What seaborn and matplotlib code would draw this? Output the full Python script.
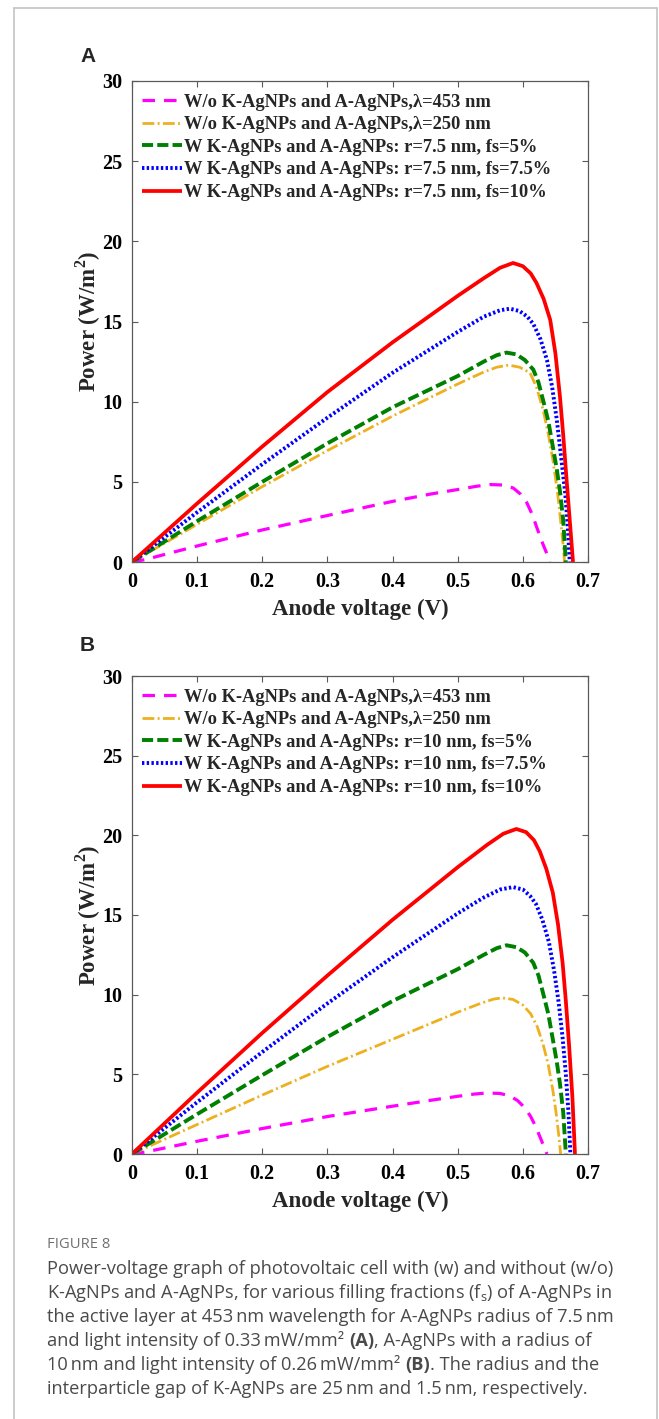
import numpy as np
import pandas as pd
import matplotlib
matplotlib.use("Agg")
import matplotlib.pyplot as plt
import seaborn as sns
from matplotlib.lines import Line2D

# ---------------- data ----------------
# Panel A
vA_pink = [0, 0.02, 0.1, 0.2, 0.3, 0.4, 0.46, 0.5, 0.53, 0.55, 0.57, 0.585, 0.596, 0.606, 0.614, 0.621, 0.629, 0.637, 0.641]
pA_pink = [0, 0.15, 1.0, 2.0, 2.9, 3.78, 4.25, 4.52, 4.73, 4.83, 4.8, 4.62, 4.25, 3.7, 3.0, 2.2, 1.3, 0.5, 0]

vA_orange = [0, 0.1, 0.2, 0.3, 0.4, 0.5, 0.54, 0.56, 0.578, 0.595, 0.611, 0.621, 0.631, 0.639, 0.646, 0.653, 0.659, 0.662, 0.664]
pA_orange = [0, 2.35, 4.7, 6.95, 9.1, 11.1, 11.85, 12.15, 12.28, 12.15, 11.8, 10.9, 9.5, 8.0, 6.4, 4.4, 2.2, 1.0, 0]

vA_green = [0, 0.1, 0.2, 0.3, 0.4, 0.5, 0.54, 0.56, 0.575, 0.59, 0.603, 0.616, 0.624, 0.631, 0.639, 0.646, 0.652, 0.657, 0.662, 0.666]
pA_green = [0, 2.55, 5.0, 7.4, 9.65, 11.6, 12.5, 12.9, 13.06, 12.95, 12.6, 12.0, 11.2, 10.1, 8.8, 7.2, 5.8, 4.4, 2.6, 0]

vA_blue = [0, 0.1, 0.2, 0.3, 0.4, 0.5, 0.54, 0.565, 0.58, 0.595, 0.607, 0.616, 0.627, 0.637, 0.645, 0.652, 0.658, 0.665, 0.669, 0.672]
pA_blue = [0, 3.1, 6.1, 9.0, 11.8, 14.35, 15.3, 15.7, 15.8, 15.65, 15.3, 14.85, 13.9, 12.6, 10.9, 8.9, 6.8, 4.3, 2.2, 0]

vA_red = [0, 0.1, 0.2, 0.3, 0.4, 0.5, 0.54, 0.565, 0.585, 0.6, 0.612, 0.621, 0.632, 0.642, 0.65, 0.657, 0.662, 0.667, 0.672, 0.677]
pA_red = [0, 3.65, 7.2, 10.6, 13.7, 16.6, 17.7, 18.35, 18.65, 18.45, 18.0, 17.4, 16.4, 15.1, 13.0, 10.3, 7.9, 5.2, 2.6, 0]

# Panel B
vB_pink = [0, 0.02, 0.1, 0.2, 0.3, 0.4, 0.46, 0.5, 0.525, 0.545, 0.565, 0.58, 0.592, 0.603, 0.612, 0.62, 0.627, 0.633, 0.637]
pB_pink = [0, 0.12, 0.8, 1.6, 2.35, 3.0, 3.38, 3.62, 3.76, 3.83, 3.8, 3.65, 3.35, 2.9, 2.35, 1.7, 1.0, 0.4, 0]

vB_orange = [0, 0.1, 0.2, 0.3, 0.4, 0.5, 0.535, 0.555, 0.568, 0.585, 0.6, 0.612, 0.622, 0.631, 0.639, 0.646, 0.651, 0.655, 0.658]
pB_orange = [0, 1.85, 3.7, 5.5, 7.2, 8.9, 9.45, 9.72, 9.8, 9.7, 9.35, 8.8, 8.0, 6.9, 5.6, 4.0, 2.6, 1.2, 0]

vB_green = [0, 0.1, 0.2, 0.3, 0.4, 0.5, 0.54, 0.56, 0.575, 0.59, 0.603, 0.616, 0.624, 0.631, 0.639, 0.646, 0.652, 0.657, 0.662, 0.666]
pB_green = [0, 2.5, 4.95, 7.35, 9.6, 11.6, 12.5, 12.92, 13.1, 12.98, 12.65, 12.0, 11.2, 10.1, 8.8, 7.2, 5.8, 4.4, 2.6, 0]

vB_blue = [0, 0.1, 0.2, 0.3, 0.4, 0.5, 0.54, 0.565, 0.585, 0.6, 0.611, 0.62, 0.63, 0.64, 0.648, 0.655, 0.661, 0.666, 0.67, 0.673]
pB_blue = [0, 3.25, 6.4, 9.45, 12.35, 15.1, 16.1, 16.6, 16.75, 16.6, 16.2, 15.7, 14.7, 13.3, 11.5, 9.5, 7.3, 5.0, 2.6, 0]

vB_red = [0, 0.1, 0.2, 0.3, 0.4, 0.5, 0.545, 0.57, 0.59, 0.605, 0.617, 0.626, 0.636, 0.646, 0.654, 0.661, 0.666, 0.671, 0.676, 0.68]
pB_red = [0, 3.85, 7.6, 11.2, 14.7, 18.0, 19.4, 20.1, 20.4, 20.2, 19.7, 19.0, 17.9, 16.4, 14.4, 12.0, 9.6, 6.8, 3.6, 0]

x_ticks = [0, 0.1, 0.2, 0.3, 0.4, 0.5, 0.6, 0.7]
x_ticklabels = ["0", "0.1", "0.2", "0.3", "0.4", "0.5", "0.6", "0.7"]
y_ticks = [0, 5, 10, 15, 20, 25, 30]

labels_A = [
    "W/o K-AgNPs and A-AgNPs,\u03bb=453 nm",
    "W/o K-AgNPs and A-AgNPs,\u03bb=250 nm",
    "W K-AgNPs and A-AgNPs: r=7.5 nm, fs=5%",
    "W K-AgNPs and A-AgNPs: r=7.5 nm, fs=7.5%",
    "W K-AgNPs and A-AgNPs: r=7.5 nm, fs=10%",
]
labels_B = [
    "W/o K-AgNPs and A-AgNPs,\u03bb=453 nm",
    "W/o K-AgNPs and A-AgNPs,\u03bb=250 nm",
    "W K-AgNPs and A-AgNPs: r=10 nm, fs=5%",
    "W K-AgNPs and A-AgNPs: r=10 nm, fs=7.5%",
    "W K-AgNPs and A-AgNPs: r=10 nm, fs=10%",
]

caption_lines = [
    [("Power-voltage graph of photovoltaic cell with (w) and without (w/o)", "normal")],
    [(r"K-AgNPs and A-AgNPs, for various filling fractions (f$_\mathrm{s}$) of A-AgNPs in", "normal")],
    [("the active layer at 453\u2009nm wavelength for A-AgNPs radius of 7.5\u2009nm", "normal")],
    [("and light intensity of 0.33\u2009mW/mm\u00b2 ", "normal"), ("(A)", "bold"),
     (", A-AgNPs with a radius of", "normal")],
    [("10\u2009nm and light intensity of 0.26\u2009mW/mm\u00b2 ", "normal"), ("(B)", "bold"),
     (". The radius and the", "normal")],
    [("interparticle gap of K-AgNPs are 25\u2009nm and 1.5\u2009nm, respectively.", "normal")],
]

# ---------------- styling ----------------
sns.set_theme(style="ticks")
plt.rcParams["font.family"] = ["Liberation Serif", "DejaVu Serif"]
plt.rcParams["mathtext.fontset"] = "custom"
plt.rcParams["mathtext.rm"] = "Open Sans"
plt.rcParams["mathtext.bf"] = "Liberation Serif:bold"
plt.rcParams["lines.scale_dashes"] = False

styles = [
    dict(color="#ff00ff", lw=2.3, dashes=(9, 6.5)),
    dict(color="#edb120", lw=2.0, dashes=(8.5, 2.4, 1.4, 2.4)),
    dict(color="#008000", lw=2.8, dashes=(8, 3.0)),
    dict(color="#0000ff", lw=2.8, dashes=(1.7, 1.7)),
    dict(color="#ff0000", lw=2.7, dashes=None),
]

W, H = 659, 1419
fig = plt.figure(figsize=(W / 100, H / 100), dpi=100)
fig.patch.set_facecolor("white")

# outer frame lines
fc = "#c4c4c4"
fig.add_artist(Line2D([14 / W, 657 / W], [1 - 8 / H, 1 - 8 / H], transform=fig.transFigure, color=fc, lw=1.2))
fig.add_artist(Line2D([14 / W, 14 / W], [1 - 8 / H, 0], transform=fig.transFigure, color=fc, lw=1.2))
fig.add_artist(Line2D([657 / W, 657 / W], [1 - 8 / H, 0], transform=fig.transFigure, color=fc, lw=1.2))


def make_panel(rect, series, labels, letter, letter_y):
    ax = fig.add_axes(rect)
    for (vx, py), lab, st in zip(series, labels, styles):
        sns.lineplot(x=vx, y=py, ax=ax, color=st["color"], lw=st["lw"],
                     sort=False, estimator=None, label=lab)
        ln = ax.lines[-1]
        if st["dashes"] is not None:
            ln.set_dashes(st["dashes"])
        ln.set_dash_capstyle("butt")
        ln.set_solid_capstyle("butt")
        ln.set_solid_joinstyle("round")
    ax.set_xlim(0, 0.7)
    ax.set_ylim(0, 30)
    ax.set_xticks(x_ticks)
    ax.set_xticklabels(x_ticklabels)
    ax.set_yticks(y_ticks)
    for s in ax.spines.values():
        s.set_color("#5a5a5a")
        s.set_linewidth(0.9)
    ax.tick_params(direction="in", length=4, width=0.8, color="#5a5a5a",
                   top=True, right=True, labelsize=14.5, pad=7, labelcolor="black")
    for t in ax.get_xticklabels() + ax.get_yticklabels():
        t.set_fontweight("bold")
    ax.set_xlabel("Anode voltage (V)", fontsize=16.5, fontweight="bold", labelpad=5)
    ax.set_ylabel(r"Power (W/m$^\mathbf{2}$)", fontsize=16.5, fontweight="bold", labelpad=-0.5)
    ax.legend(loc="upper left", frameon=False,
              prop=dict(weight="bold", size=13.3), handlelength=2.15,
              handletextpad=0.1, labelspacing=0.3, borderaxespad=0.14,
              bbox_to_anchor=(0.0, 0.994))
    fig.text(80 / W, 1 - letter_y / H, letter, fontsize=15, fontweight="bold",
             family="Liberation Sans", va="center", ha="left")
    return ax


seriesA = [(vA_pink, pA_pink), (vA_orange, pA_orange), (vA_green, pA_green),
           (vA_blue, pA_blue), (vA_red, pA_red)]
seriesB = [(vB_pink, pB_pink), (vB_orange, pB_orange), (vB_green, pB_green),
           (vB_blue, pB_blue), (vB_red, pB_red)]

axA = make_panel([132 / W, 1 - 562 / H, 456 / W, 481 / H], seriesA, labels_A, "A", 57)
axB = make_panel([132 / W, 1 - 1154 / H, 456 / W, 478 / H], seriesB, labels_B, "B", 645)

# ---------------- caption ----------------
cap_color = "#4a4a4a"
fig.text(47 / W, 1 - 1245 / H, "FIGURE 8", fontsize=10.6, color="#707070",
         family="Open Sans", va="center", ha="left")

cap_size = 13.15
line_y = [1274 + 24 * i for i in range(6)]
fig.canvas.draw()
renderer = fig.canvas.get_renderer()
for yy, parts in zip(line_y, caption_lines):
    x_px = 47.0
    for txt, wt in parts:
        t = fig.text(x_px / W, 1 - yy / H, txt, fontsize=cap_size, color=cap_color,
                     family=["Open Sans", "DejaVu Sans"], fontweight=wt,
                     va="baseline", ha="left")
        bb = t.get_window_extent(renderer=renderer)
        x_px += bb.width

fig.savefig("out.png", dpi=100, facecolor="white")
